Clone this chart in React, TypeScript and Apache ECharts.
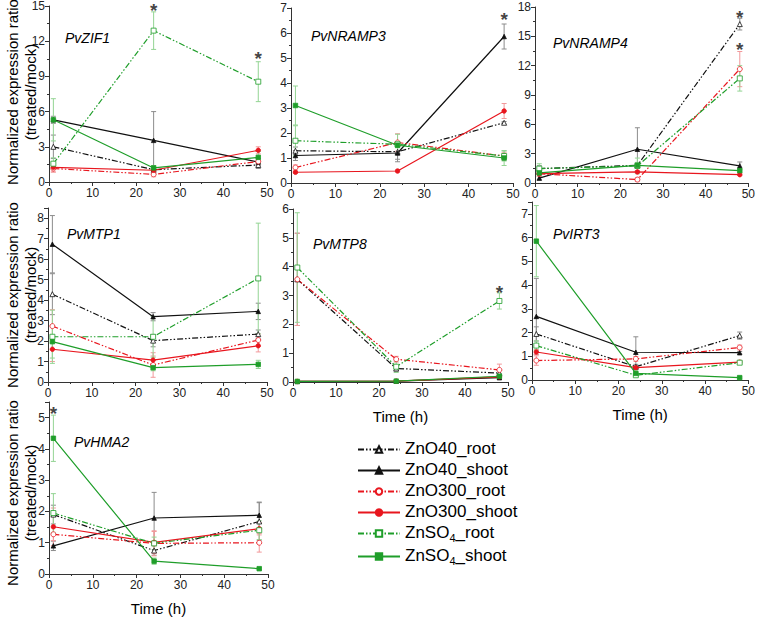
import React, { useEffect, useRef } from 'react';
import * as echarts from 'echarts';

const FONT = '"Liberation Sans", Arial, Helvetica, sans-serif';

// ---------- data ----------
const times = [1, 24, 48];
const seriesNames = ['ZnO40_root', 'ZnO40_shoot', 'ZnO300_root', 'ZnO300_shoot', 'ZnSO4_root', 'ZnSO4_shoot'];
const genes = ['PvZIF1', 'PvNRAMP3', 'PvNRAMP4', 'PvMTP1', 'PvMTP8', 'PvIRT3', 'PvHMA2'];
const xTicks = [0, 10, 20, 30, 40, 50];

// rows follow seriesNames order; columns follow times
const zif1Mean = [
  [3.0, 1.05, 1.45],
  [5.3, 3.55, 1.7],
  [1.15, 0.65, 1.75],
  [1.25, 1.0, 2.7],
  [1.56, 12.9, 8.55],
  [5.3, 1.2, 2.1],
];
const zif1Err = [
  [1.0, 0.2, 0.3],
  [0.3, 2.45, 0.3],
  [0.3, 0.2, 0.2],
  [0.4, 0.2, 0.3],
  [0.5, 1.6, 1.7],
  [1.8, 0.2, 0.5],
];
const nramp3Mean = [
  [1.29, 1.25, 2.41],
  [1.1, 1.2, 5.86],
  [0.62, 1.62, 1.08],
  [0.43, 0.48, 2.88],
  [1.69, 1.55, 1.08],
  [3.1, 1.51, 1.0],
];
const nramp3Err = [
  [0.15, 0.3, 0.05],
  [0.2, 0.35, 0.5],
  [0.1, 0.35, 0.15],
  [0.05, 0.05, 0.3],
  [0.6, 0.4, 0.2],
  [0.78, 0.1, 0.3],
];
const nramp4Mean = [
  [1.47, 1.8, 16.25],
  [0.5, 3.45, 1.75],
  [0.95, 0.35, 11.65],
  [0.95, 1.13, 0.85],
  [1.47, 1.75, 10.7],
  [1.03, 1.8, 1.27],
];
const nramp4Err = [
  [0.3, 0.3, 0.6],
  [0.2, 2.2, 0.4],
  [0.3, 0.2, 1.8],
  [0.1, 0.1, 0.1],
  [0.5, 0.8, 1.3],
  [0.2, 0.3, 0.2],
];
const mtp1Mean = [
  [4.29, 2.02, 2.34],
  [6.73, 3.19, 3.45],
  [2.73, 0.83, 2.05],
  [1.6, 1.07, 1.77],
  [2.21, 2.21, 5.06],
  [1.97, 0.7, 0.86],
];
const mtp1Err = [
  [1.0, 0.3, 0.2],
  [1.4, 0.2, 0.4],
  [0.8, 0.6, 0.3],
  [0.6, 0.2, 0.3],
  [1.3, 1.0, 2.7],
  [0.8, 0.15, 0.2],
];
const mtp8Mean = [
  [3.56, 0.47, 0.31],
  [0.02, 0.03, 0.15],
  [3.56, 0.79, 0.42],
  [0.02, 0.03, 0.18],
  [3.97, 0.53, 2.81],
  [0.02, 0.03, 0.2],
];
const mtp8Err = [
  [1.6, 0.1, 0.1],
  [0.01, 0.01, 0.05],
  [1.6, 0.1, 0.2],
  [0.01, 0.01, 0.05],
  [1.9, 0.2, 0.28],
  [0.02, 0.02, 0.1],
];
const irt3Mean = [
  [1.94, 0.56, 1.87],
  [2.68, 1.17, 1.15],
  [0.82, 0.89, 1.37],
  [1.18, 0.52, 0.75],
  [1.45, 0.2, 0.73],
  [5.85, 0.28, 0.1],
];
const irt3Err = [
  [0.3, 0.1, 0.15],
  [1.6, 0.65, 0.05],
  [0.2, 0.1, 0.1],
  [0.1, 0.05, 0.05],
  [0.2, 0.05, 0.05],
  [1.5, 0.1, 0.03],
];
const hma2Mean = [
  [1.9, 0.75, 1.68],
  [0.9, 1.79, 1.88],
  [1.27, 0.98, 1.0],
  [1.51, 1.01, 1.45],
  [1.95, 0.98, 1.4],
  [4.34, 0.41, 0.17],
];
const hma2Err = [
  [0.3, 0.15, 0.6],
  [0.15, 0.82, 0.42],
  [0.2, 0.4, 0.3],
  [0.6, 0.35, 0.2],
  [0.62, 0.2, 0.3],
  [0.74, 0.1, 0.03],
];

// significance asterisks [time, value]
const zif1Stars = [[24, 14.65], [48, 10.5]];
const nramp3Stars = [[48, 6.56]];
const nramp4Stars = [[48, 16.97], [48, 13.7]];
const mtp1Stars: number[][] = [];
const mtp8Stars = [[48, 3.12]];
const irt3Stars: number[][] = [];
const hma2Stars = [[1, 5.12]];

// y axis ranges
const yMax = [15, 7, 18, 8.5, 6, 7.5, 5.5];
const yInterval = [3, 1, 3, 1, 1, 1, 1];

const panelMeans = [zif1Mean, nramp3Mean, nramp4Mean, mtp1Mean, mtp8Mean, irt3Mean, hma2Mean];
const panelErrs = [zif1Err, nramp3Err, nramp4Err, mtp1Err, mtp8Err, irt3Err, hma2Err];
const panelStars = [zif1Stars, nramp3Stars, nramp4Stars, mtp1Stars, mtp8Stars, irt3Stars, hma2Stars];

// ---------- styles ----------
const layout = [
  { left: 49, top: 6, width: 218, height: 176 },
  { left: 291, top: 8, width: 222, height: 175 },
  { left: 535, top: 7, width: 217, height: 176 },
  { left: 48, top: 208, width: 219, height: 174 },
  { left: 293, top: 209, width: 215, height: 173 },
  { left: 532, top: 202, width: 220, height: 178 },
  { left: 49, top: 402, width: 219, height: 176 },
];
const geneLabelPos = [
  [65, 39], [311, 37], [553, 44], [67, 235], [313, 245], [553, 235], [74, 443],
];
const timeNamePanels = [4, 5, 6];

const BLACK = '#111111';
const RED = '#e8161e';
const GREEN = '#1f9e2a';
const lineColor = [BLACK, BLACK, RED, RED, GREEN, GREEN];
const errColor = ['#8c8c8c', '#8c8c8c', '#f2999b', '#f2999b', '#93d493', '#93d493'];
const isRoot = [true, false, true, false, true, false];
const symbols = ['triangle', 'triangle', 'circle', 'circle', 'rect', 'rect'];
const DASH = [6, 2, 1.5, 2, 1.5, 2];

export default function App() {
  const ref = useRef<HTMLDivElement>(null);

  useEffect(() => {
    if (!ref.current) return;
    const chart = echarts.init(ref.current, undefined, { renderer: 'svg' });

    const grids = layout.map((g) => ({ ...g }));
    const xAxes = layout.map((_, p) => ({
      type: 'value',
      gridIndex: p,
      min: 0,
      max: 50,
      interval: 10,
      name: timeNamePanels.includes(p) ? 'Time (h)' : '',
      nameLocation: 'middle',
      nameGap: 27,
      nameTextStyle: { fontFamily: FONT, fontSize: 15, color: '#000', fontWeight: 'normal' },
      axisLine: { show: true, onZero: false, lineStyle: { color: '#333', width: 1 } },
      axisTick: { show: true, length: 4, lineStyle: { color: '#333' } },
      minorTick: { show: true, splitNumber: 2, length: 2, lineStyle: { color: '#333' } },
      splitLine: { show: false },
      axisLabel: {
        fontFamily: FONT,
        fontSize: 12,
        color: '#222',
        margin: 5,
        formatter: (v: number) => (xTicks.includes(v) ? String(v) : ''),
      },
    }));
    const yAxes = layout.map((_, p) => ({
      type: 'value',
      gridIndex: p,
      min: 0,
      max: yMax[p],
      interval: yInterval[p],
      axisLine: { show: true, lineStyle: { color: '#333', width: 1 } },
      axisTick: { show: true, length: 4, lineStyle: { color: '#333' } },
      minorTick: { show: true, splitNumber: 2, length: 2, lineStyle: { color: '#333' } },
      splitLine: { show: false },
      axisLabel: {
        fontFamily: FONT,
        fontSize: 12,
        color: '#222',
        margin: 4,
        formatter: (v: number) =>
          Math.abs(v / yInterval[p] - Math.round(v / yInterval[p])) < 1e-6 ? String(v) : '',
      },
    }));

    const series: any[] = [];
    panelMeans.forEach((means, p) => {
      // error bars
      means.forEach((row, s) => {
        const errs = panelErrs[p][s];
        const color = errColor[s];
        series.push({
          type: 'custom',
          xAxisIndex: p,
          yAxisIndex: p,
          z: 1,
          silent: true,
          data: times.map((t, i) => [t, row[i] - errs[i], row[i] + errs[i]]),
          encode: { x: 0, y: [1, 2] },
          renderItem: (params: any, api: any) => {
            const x = api.value(0);
            const top = api.coord([x, api.value(2)]);
            const bot = api.coord([x, api.value(1)]);
            const w = 2.5;
            const st = { stroke: color, lineWidth: 1 };
            return {
              type: 'group',
              children: [
                { type: 'line', shape: { x1: top[0], y1: top[1], x2: bot[0], y2: bot[1] }, style: st },
                { type: 'line', shape: { x1: top[0] - w, y1: top[1], x2: top[0] + w, y2: top[1] }, style: st },
                { type: 'line', shape: { x1: bot[0] - w, y1: bot[1], x2: bot[0] + w, y2: bot[1] }, style: st },
              ],
            };
          },
        });
      });
      // lines
      means.forEach((row, s) => {
        series.push({
          type: 'line',
          name: seriesNames[s],
          xAxisIndex: p,
          yAxisIndex: p,
          z: 3,
          data: times.map((t, i) => [t, row[i]]),
          symbol: symbols[s],
          symbolSize: isRoot[s] ? 5 : 4.5,
          showAllSymbol: true,
          lineStyle: { color: lineColor[s], width: 1.2, type: isRoot[s] ? DASH : 'solid' },
          itemStyle: {
            color: isRoot[s] ? '#ffffff' : lineColor[s],
            borderColor: lineColor[s],
            borderWidth: 0.8,
          },
          emphasis: { disabled: true },
        });
      });
      // stars
      if (panelStars[p].length) {
        series.push({
          type: 'scatter',
          xAxisIndex: p,
          yAxisIndex: p,
          z: 5,
          silent: true,
          symbolSize: 1,
          itemStyle: { color: 'rgba(0,0,0,0)' },
          data: panelStars[p],
          label: {
            show: true,
            position: 'inside',
            formatter: '*',
            fontFamily: FONT,
            fontSize: 19,
            fontWeight: 'bold',
            color: '#111',
          },
        });
      }
    });

    const graphics: any[] = [];
    genes.forEach((g, p) => {
      graphics.push({
        type: 'text',
        left: geneLabelPos[p][0],
        top: geneLabelPos[p][1] - 8,
        style: {
          text: g,
          fontFamily: FONT,
          fontSize: 14,
          fontStyle: 'italic',
          fill: '#000',
        },
      });
    });
    const rowCenters = [92, 295, 493];
    rowCenters.forEach((cy) => {
      graphics.push({
        type: 'text',
        x: 12,
        y: cy,
        rotation: Math.PI / 2,
        style: {
          text: 'Normalized expression ratio',
          fontFamily: FONT,
          fontSize: 15,
          fill: '#000',
          align: 'center',
          verticalAlign: 'middle',
        },
      });
      graphics.push({
        type: 'text',
        x: 30,
        y: cy,
        rotation: Math.PI / 2,
        style: {
          text: '(treated/mock)',
          fontFamily: FONT,
          fontSize: 15,
          fill: '#000',
          align: 'center',
          verticalAlign: 'middle',
        },
      });
    });

    chart.setOption({
      animation: false,
      backgroundColor: '#ffffff',
      grid: grids,
      xAxis: xAxes,
      yAxis: yAxes,
      series,
      graphic: graphics,
      legend: {
        data: seriesNames,
        orient: 'vertical',
        left: 352,
        top: 435,
        itemWidth: 42,
        itemHeight: 8,
        itemGap: 4,
        selectedMode: false,
        textStyle: {
          fontFamily: FONT,
          fontSize: 17,
          color: '#000',
          rich: {
            n: { fontFamily: FONT, fontSize: 17, color: '#000', verticalAlign: 'bottom', padding: [0, 0, 2, 0] },
            s: { fontFamily: FONT, fontSize: 11, color: '#000', verticalAlign: 'bottom' },
          },
        },
        formatter: (name: string) =>
          name.indexOf('SO4') >= 0
            ? `{n|ZnSO}{s|4}{n|${name.slice(5)}}`
            : `{n|${name}}`,
      },
    });

    return () => chart.dispose();
  }, []);

  return (
    <div
      ref={ref}
      style={{ position: 'absolute', left: 0, top: 0, width: 758, height: 617, background: '#fff' }}
    />
  );
}
